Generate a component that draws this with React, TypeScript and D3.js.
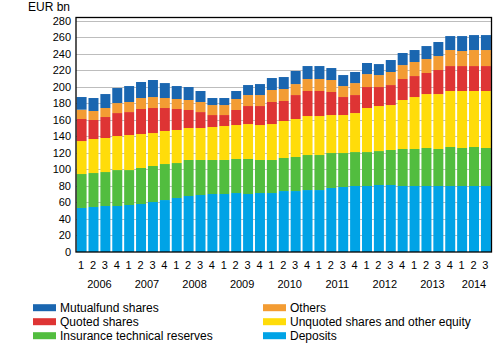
import * as d3 from "d3"

const years = ["2006", "2007", "2008", "2009", "2010", "2011", "2012", "2013", "2014"]
const quarterNames = ["1", "2", "3", "4"]
const periodCount = 35

// EUR bn, 2006Q1 .. 2014Q3
const deposits = [53.3, 54.5, 55.7, 55.7, 56.9, 58.1, 60.5, 62.9, 65.4, 67.8, 69.0, 70.2, 70.2, 71.4, 70.2, 71.4, 71.4, 73.8, 73.8, 75.0, 75.0, 77.5, 78.7, 79.9, 79.9, 81.1, 81.1, 79.9, 79.9, 79.9, 79.9, 79.9, 79.9, 79.9, 79.9]
const insurance = [41.1, 41.1, 41.1, 43.5, 42.3, 43.6, 43.6, 43.6, 42.3, 43.6, 42.4, 41.2, 41.2, 41.2, 42.4, 40.0, 40.0, 40.0, 41.2, 42.4, 42.4, 42.3, 41.1, 41.1, 41.1, 41.1, 42.4, 44.8, 44.8, 46.0, 44.8, 47.2, 46.0, 47.2, 46.0]
const unquoted = [39.9, 41.2, 41.2, 41.2, 42.4, 41.1, 39.9, 40.0, 40.0, 38.7, 38.7, 39.9, 41.1, 41.1, 42.3, 42.3, 43.5, 44.8, 46.0, 47.2, 47.2, 46.0, 46.0, 47.2, 53.3, 54.5, 54.4, 59.3, 62.9, 65.3, 66.5, 67.8, 69.0, 67.8, 69.0]
const quoted = [26.7, 23.0, 25.4, 27.8, 27.8, 30.3, 30.3, 27.8, 25.4, 21.8, 19.3, 14.5, 13.3, 18.2, 21.8, 23.0, 26.7, 24.2, 29.0, 30.3, 30.3, 27.9, 21.8, 21.8, 25.4, 23.0, 24.2, 25.4, 25.4, 25.5, 29.1, 30.2, 30.2, 30.2, 30.2]
const others = [11.3, 10.9, 10.9, 12.1, 12.2, 13.3, 13.3, 12.1, 12.1, 12.1, 12.2, 12.1, 12.1, 13.3, 13.3, 13.3, 14.5, 14.5, 13.3, 14.5, 14.5, 14.5, 13.3, 14.5, 15.7, 14.5, 15.8, 16.9, 17.0, 16.9, 16.9, 19.4, 18.2, 19.4, 19.4]
const mutualfund = [15.3, 15.7, 16.9, 18.2, 19.3, 19.4, 20.6, 18.1, 15.7, 15.7, 13.3, 8.5, 8.5, 9.7, 12.1, 13.3, 14.5, 14.5, 15.8, 15.7, 15.7, 14.5, 13.3, 13.4, 13.4, 13.3, 14.5, 14.6, 14.5, 15.7, 17.0, 16.9, 18.1, 18.1, 18.1]

const seriesKeys = ["deposits", "insurance", "unquoted", "quoted", "others", "mutualfund"]
const seriesNames = ["Deposits", "Insurance technical reserves", "Unquoted shares and other equity", "Quoted shares", "Others", "Mutualfund shares"]
const seriesColors = ["#00a3e6", "#52bd3f", "#ffdc0a", "#de3434", "#f39c33", "#1a66b0"]
const seriesValues = [deposits, insurance, unquoted, quoted, others, mutualfund]

const yTicks = d3.range(0, 281, 20)

// legend layout: two columns, top to bottom
const legendLeft = ["mutualfund", "quoted", "insurance"]
const legendRight = ["others", "unquoted", "deposits"]

const font = "'Liberation Sans', Arial, sans-serif"

export default function App() {
  const width = 500
  const height = 350
  const plot = { left: 76, right: 491.5, top: 17.5, bottom: 252 }

  const periods = years.flatMap(y => quarterNames.map(q => ({ year: y, q, id: `${y}Q${q}` }))).slice(0, periodCount)

  const rows = periods.map((p, i) => {
    const row: Record<string, any> = { id: p.id }
    seriesKeys.forEach((k, j) => { row[k] = seriesValues[j][i] })
    return row
  })

  const stack = d3.stack<Record<string, any>>().keys(seriesKeys)
  const layers = stack(rows)

  const x = d3.scaleBand<string>()
    .domain(periods.map(p => p.id))
    .range([plot.left, plot.right])
    .paddingInner(0.16)
    .paddingOuter(0.05)

  const y = d3.scaleLinear()
    .domain([0, 280])
    .range([plot.bottom, 20.7])

  const color = d3.scaleOrdinal<string, string>().domain(seriesKeys).range(seriesColors)
  const nameOf = (k: string) => seriesNames[seriesKeys.indexOf(k)]

  return (
    <svg width={width} height={height} style={{ position: "absolute", left: 0, top: 0, background: "#fff" }} fontFamily={font}>
      <text x={28} y={11} fontSize={12} fill="#000">EUR bn</text>

      {/* grid */}
      {yTicks.filter(t => t > 0).map(t => (
        <line key={t} x1={plot.left} x2={plot.right} y1={Math.round(y(t)) + 0.5} y2={Math.round(y(t)) + 0.5} stroke="#bdbdbd" strokeWidth={1} />
      ))}

      {/* bars */}
      {layers.map(layer => (
        <g key={layer.key} fill={color(layer.key)}>
          {layer.map((d, i) => (
            <rect key={i} x={x(periods[i].id)} width={x.bandwidth()} y={y(d[1])} height={y(d[0]) - y(d[1])} />
          ))}
        </g>
      ))}

      {/* frame */}
      <rect x={plot.left} y={plot.top} width={plot.right - plot.left} height={plot.bottom - plot.top} fill="none" stroke="#000" strokeWidth={1.3} />

      {/* y labels */}
      {yTicks.map(t => (
        <text key={t} x={71} y={y(t)} dy="0.35em" textAnchor="end" fontSize={11} fill="#000">{t}</text>
      ))}

      {/* quarter labels */}
      {periods.map(p => (
        <text key={p.id} x={(x(p.id) ?? 0) + x.bandwidth() / 2 - 0.5} y={265} dy="0.35em" textAnchor="middle" fontSize={11} fill="#000">{p.q}</text>
      ))}

      {/* year labels */}
      {years.map(yr => {
        const ps = periods.filter(p => p.year === yr)
        const cx = d3.mean(ps, p => (x(p.id) ?? 0) + x.bandwidth() / 2) ?? 0
        return <text key={yr} x={cx} y={284} dy="0.35em" textAnchor="middle" fontSize={11} fill="#000">{yr}</text>
      })}

      {/* legend */}
      {[legendLeft, legendRight].map((col, ci) => (
        <g key={ci} transform={`translate(${ci === 0 ? 33 : 263},0)`}>
          {col.map((k, ri) => (
            <g key={k} transform={`translate(0,${307.7 + ri * 14})`}>
              <rect x={0} y={-3.5} width={23} height={7} fill={color(k)} />
              <text x={27} y={0} dy="0.35em" fontSize={12} fill="#000">{nameOf(k)}</text>
            </g>
          ))}
        </g>
      ))}
    </svg>
  )
}
